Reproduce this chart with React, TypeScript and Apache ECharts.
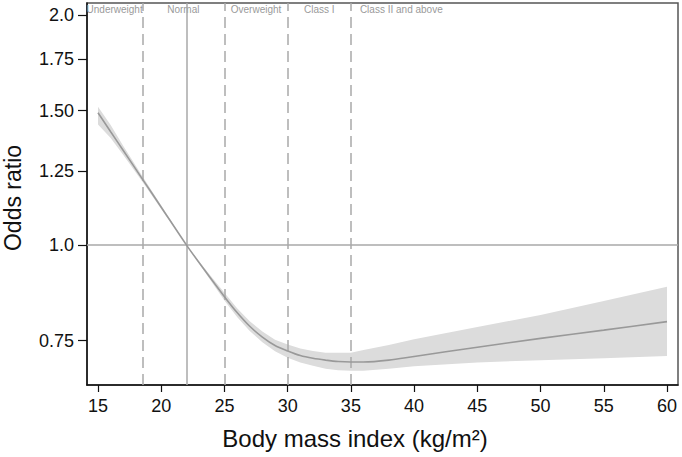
import React, { useEffect, useRef } from "react";
import * as echarts from "echarts";

// BMI (kg/m2) grid points of the fitted spline
const bmi = [15, 16, 17, 18.5, 20, 22, 23.5, 25, 26, 27, 28, 29, 30, 31, 32, 33, 34, 35, 36, 38, 40, 45, 50, 55, 60];
// Odds ratio estimate
const oddsRatio = [1.49, 1.407, 1.33, 1.221, 1.121, 1.0, 0.924, 0.856, 0.816, 0.783, 0.758, 0.739, 0.727, 0.717, 0.711, 0.707, 0.704, 0.703, 0.703, 0.707, 0.715, 0.735, 0.755, 0.774, 0.794];
// 95% CI lower / upper
const ciLower = [1.438, 1.381, 1.312, 1.211, 1.115, 1.0, 0.919, 0.846, 0.805, 0.772, 0.746, 0.726, 0.712, 0.702, 0.695, 0.689, 0.686, 0.685, 0.685, 0.689, 0.694, 0.702, 0.707, 0.711, 0.716];
const ciUpper = [1.517, 1.436, 1.348, 1.231, 1.127, 1.0, 0.929, 0.866, 0.827, 0.795, 0.771, 0.752, 0.741, 0.732, 0.727, 0.723, 0.723, 0.723, 0.729, 0.74, 0.753, 0.781, 0.81, 0.845, 0.882];

const xTicks = [15, 20, 25, 30, 35, 40, 45, 50, 55, 60];
const yTickLabels = ["0.75", "1.0", "1.25", "1.50", "1.75", "2.0"];
const yTickValues = [0.75, 1.0, 1.25, 1.5, 1.75, 2.0];

const dashedCutoffs = [18.5, 25, 30, 35];
const referenceBmi = 22;
const referenceOr = 1.0;

const categories = ["Underweight", "Normal", "Overweight", "Class I", "Class II and above"];
const categoryBounds = [
  ["min", 18.5],
  [18.5, 25],
  [25, 30],
  [30, 35],
  [35, "max"],
];

const X_MIN = 14.13;
const X_MAX = 60.87;
const Y_MIN = 0.656;
const Y_MAX = 2.074;

const FONT = "'Liberation Sans', Arial, Helvetica, sans-serif";

export default function App() {
  const ref = useRef<HTMLDivElement>(null);

  useEffect(() => {
    if (!ref.current) return;
    const chart = echarts.init(ref.current, undefined, { renderer: "svg" });
    const ln = Math.log;

    const bandData = bmi.map((x, i) => [x, ln(ciLower[i]), ln(ciUpper[i])]);
    const lineData = bmi.map((x, i) => [x, ln(oddsRatio[i])]);

    const gray = "#a9a9a9";

    const markLineData: any[] = [
      ...dashedCutoffs.map((v) => ({
        xAxis: v,
        lineStyle: { type: [11, 6], color: gray, width: 1.5 },
      })),
      { xAxis: referenceBmi, lineStyle: { type: "solid", color: gray, width: 1.5 } },
      { yAxis: ln(referenceOr), lineStyle: { type: "solid", color: gray, width: 1.5 } },
    ];

    const markAreaData: any[] = categories.map((name, i) => {
      const [a, b] = categoryBounds[i];
      const last = i === categories.length - 1;
      return [
        {
          name,
          xAxis: a === "min" ? X_MIN : a,
          label: last
            ? { position: "insideTopLeft", distance: 1, offset: [8, 0] }
            : { position: "insideTop", distance: 1 },
        },
        { xAxis: b === "max" ? X_MAX : b },
      ];
    });

    const fmtY = (v: number) => {
      let best = 0;
      let bd = Infinity;
      yTickValues.forEach((t, i) => {
        const d = Math.abs(ln(t) - v);
        if (d < bd) {
          bd = d;
          best = i;
        }
      });
      return yTickLabels[best];
    };

    chart.setOption({
      animation: false,
      grid: {
        left: 87,
        right: 4,
        top: 3,
        bottom: 72,
        show: true,
        borderColor: "#555",
        borderWidth: 1.5,
      },
      xAxis: {
        type: "value",
        min: X_MIN,
        max: X_MAX,
        splitLine: { show: false },
        axisLine: { show: true, onZero: false, lineStyle: { color: "#111", width: 1.5 } },
        axisTick: { show: true, customValues: xTicks, length: 7, lineStyle: { color: "#111", width: 1.2 } },
        axisLabel: {
          customValues: xTicks,
          fontSize: 18,
          color: "#111",
          margin: 12,
          fontFamily: FONT,
        },
      },
      yAxis: {
        type: "value",
        min: ln(Y_MIN),
        max: ln(Y_MAX),
        splitLine: { show: false },
        axisLine: { show: true, onZero: false, lineStyle: { color: "#111", width: 1.5 } },
        axisTick: {
          show: true,
          customValues: yTickValues.map(ln),
          length: 9,
          lineStyle: { color: "#111", width: 1.2 },
        },
        axisLabel: {
          customValues: yTickValues.map(ln),
          formatter: fmtY,
          fontSize: 18,
          color: "#111",
          margin: 13,
          fontFamily: FONT,
        },
      },
      series: [
        {
          type: "custom",
          data: bandData,
          silent: true,
          clip: true,
          z: 1,
          encode: { x: 0, y: [1, 2] },
          renderItem: (params: any, api: any) => {
            if (params.dataIndex !== 0) return null;
            const upper = bandData.map((d) => api.coord([d[0], d[2]]));
            const lower = bandData.map((d) => api.coord([d[0], d[1]])).reverse();
            return {
              type: "polygon",
              shape: { points: upper.concat(lower) },
              style: { fill: "#dcdcdc", stroke: "none" },
            };
          },
        },
        {
          type: "line",
          data: lineData,
          smooth: 0.3,
          symbol: "none",
          lineStyle: { color: "#999", width: 1.6 },
          z: 3,
          markLine: {
            silent: true,
            symbol: ["none", "none"],
            label: { show: false },
            data: markLineData,
            z: 2,
          },
          markArea: {
            silent: true,
            itemStyle: { color: "rgba(0,0,0,0)" },
            label: {
              show: true,
              color: "#9a9a9a",
              fontSize: 10,
              fontFamily: FONT,
            },
            data: markAreaData,
          },
        },
      ],
      graphic: [
        {
          type: "text",
          x: 13,
          y: 198,
          rotation: Math.PI / 2,
          style: {
            text: "Odds ratio",
            fontSize: 23,
            fontFamily: FONT,
            fill: "#111",
            align: "center",
            verticalAlign: "middle",
          },
        },
        {
          type: "text",
          x: 355,
          y: 438,
          style: {
            text: "Body mass index (kg/m²)",
            fontSize: 24,
            fontFamily: FONT,
            fill: "#111",
            align: "center",
            verticalAlign: "middle",
          },
        },
      ],
    });

    return () => chart.dispose();
  }, []);

  return (
    <div
      ref={ref}
      style={{ position: "fixed", left: 0, top: 0, width: 682, height: 457, background: "#fff" }}
    />
  );
}
